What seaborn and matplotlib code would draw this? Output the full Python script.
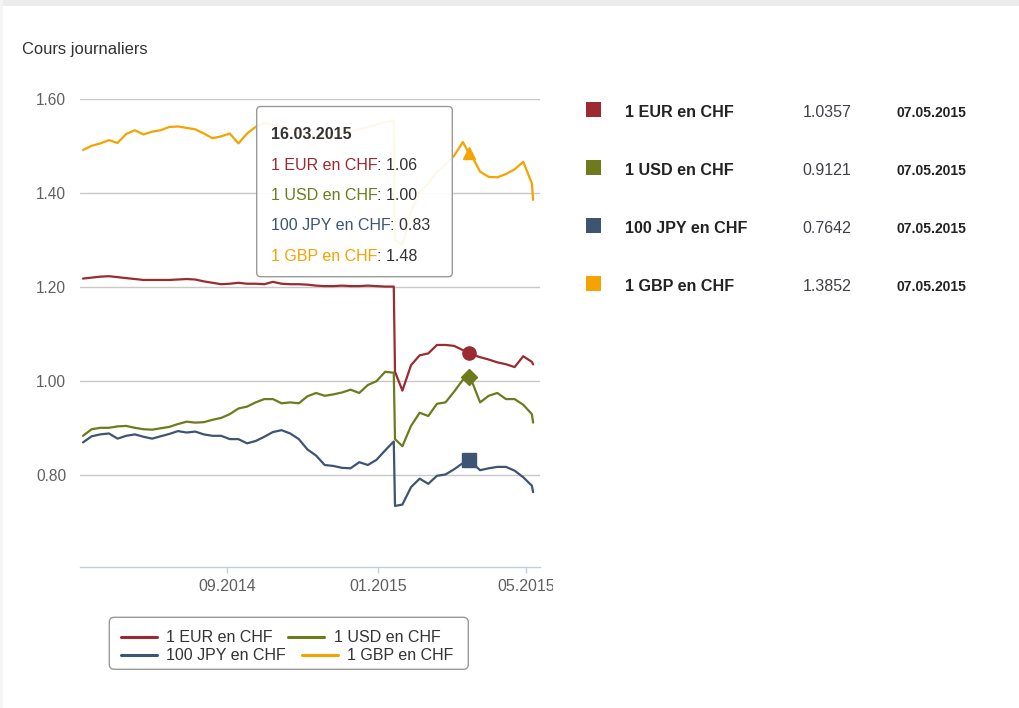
import numpy as np
import pandas as pd
import matplotlib
matplotlib.use("Agg")
import matplotlib.pyplot as plt
import seaborn as sns
from matplotlib.patches import FancyBboxPatch, Rectangle
from matplotlib.lines import Line2D
from matplotlib.transforms import IdentityTransform, Bbox

# ---------------- data ----------------
weekly_dates = pd.date_range("2014-05-07", "2015-05-06", freq="7D")
extra_dates = pd.to_datetime(["2015-01-15", "2015-03-16", "2015-05-07"])
dates = weekly_dates.union(extra_dates)

series_names = ["1 EUR en CHF", "1 USD en CHF", "100 JPY en CHF", "1 GBP en CHF"]
series_colors = ["#9b2a31", "#6e7b1d", "#3d5473", "#f5a300"]

eur = [1.218, 1.220, 1.222, 1.223, 1.221, 1.219, 1.217, 1.215, 1.215, 1.215,
       1.215, 1.216, 1.217, 1.216, 1.212, 1.209, 1.206, 1.207, 1.209, 1.207,
       1.207, 1.206, 1.211, 1.207, 1.206, 1.206, 1.205, 1.203, 1.202, 1.202,
       1.203, 1.202, 1.202, 1.203, 1.202, 1.201, 1.201,
       1.020,
       0.980, 1.034, 1.055, 1.059, 1.077, 1.077, 1.075, 1.066,
       1.060,
       1.057, 1.051, 1.046, 1.040, 1.036, 1.030, 1.053, 1.041,
       1.0357]

usd = [0.884, 0.898, 0.901, 0.901, 0.904, 0.905, 0.901, 0.898, 0.897, 0.900,
       0.903, 0.909, 0.914, 0.912, 0.913, 0.918, 0.922, 0.930, 0.942, 0.946,
       0.955, 0.962, 0.962, 0.953, 0.955, 0.953, 0.968, 0.975, 0.969, 0.972,
       0.976, 0.982, 0.975, 0.992, 1.000, 1.020, 1.018,
       0.877,
       0.862, 0.905, 0.933, 0.926, 0.952, 0.955, 0.978, 1.003,
       1.008,
       1.002, 0.955, 0.969, 0.975, 0.962, 0.962, 0.950, 0.930,
       0.9121]

jpy = [0.870, 0.883, 0.887, 0.889, 0.878, 0.884, 0.887, 0.882, 0.878, 0.883,
       0.888, 0.894, 0.891, 0.893, 0.887, 0.884, 0.884, 0.877, 0.877, 0.868,
       0.873, 0.882, 0.892, 0.896, 0.889, 0.877, 0.855, 0.842, 0.822, 0.820,
       0.816, 0.815, 0.828, 0.822, 0.833, 0.853, 0.872,
       0.735,
       0.738, 0.775, 0.793, 0.782, 0.799, 0.802, 0.813, 0.826,
       0.833,
       0.828, 0.811, 0.815, 0.818, 0.818, 0.810, 0.796, 0.778,
       0.7642]

gbp = [1.491, 1.500, 1.505, 1.512, 1.506, 1.525, 1.533, 1.524, 1.530, 1.533,
       1.540, 1.541, 1.538, 1.535, 1.526, 1.516, 1.520, 1.526, 1.505, 1.526,
       1.540, 1.548, 1.545, 1.540, 1.535, 1.530, 1.525, 1.520, 1.515, 1.518,
       1.525, 1.530, 1.535, 1.540, 1.545, 1.550, 1.553,
       1.300,
       1.290, 1.360, 1.400, 1.420, 1.445, 1.460, 1.479, 1.508,
       1.484,
       1.480, 1.445, 1.434, 1.433, 1.440, 1.450, 1.466, 1.420,
       1.3852]

series_values = [eur, usd, jpy, gbp]
last_values = ["1.0357", "0.9121", "0.7642", "1.3852"]
last_date = "07.05.2015"
tooltip_date = "16.03.2015"
tooltip_values = ["1.06", "1.00", "0.83", "1.48"]
marker_shapes = ["o", "D", "s", "^"]

y_ticks = [0.80, 1.00, 1.20, 1.40, 1.60]
x_ticks = pd.to_datetime(["2014-09-01", "2015-01-01", "2015-05-01"])
x_tick_labels = ["09.2014", "01.2015", "05.2015"]

# ---------------- figure ----------------
W, H = 1019, 708
sns.set_theme(style="white")
plt.rcParams["font.family"] = ["Liberation Sans", "DejaVu Sans"]

fig = plt.figure(figsize=(W / 100, H / 100), dpi=100)
fig.patch.set_facecolor("white")
ident = IdentityTransform()

# page frame (light grey band on top / left)
fig.add_artist(Rectangle((0, H - 6), W, 6, transform=ident, color="#ececec", lw=0, zorder=0))
fig.add_artist(Rectangle((0, 0), 3, H, transform=ident, color="#f4f4f4", lw=0, zorder=0))

fig.text(21.5, H - 54, "Cours journaliers", transform=ident, fontsize=11.9,
         color="#333333", va="baseline", ha="left")

ax_left, ax_right, ax_top, ax_bottom = 80, 540, 98.7, 566.7
ax = fig.add_axes([ax_left / W, 1 - ax_bottom / H, (ax_right - ax_left) / W, (ax_bottom - ax_top) / H])

df = pd.concat([pd.DataFrame({"date": dates, "value": v, "series": n})
                for n, v in zip(series_names, series_values)], ignore_index=True)

sns.lineplot(data=df, x="date", y="value", hue="series", hue_order=series_names,
             palette=series_colors, linewidth=1.6, estimator=None, legend=False,
             ax=ax, zorder=3)

# markers at the hovered date
hover = pd.Timestamp("2015-03-16")
hi = dates.get_loc(hover)
for vals, col, mk in zip(series_values, series_colors, marker_shapes):
    ms = {"o": 9.5, "D": 8.0, "s": 9.5, "^": 8.5}[mk]
    ax.plot([hover], [vals[hi]], marker=mk, color=col, markersize=ms, linestyle="none", zorder=5)

# axes styling
day0 = pd.Timestamp("2014-09-01") - pd.Timedelta(days=(227.3 - ax_left) / 1.2331)
day1 = day0 + pd.Timedelta(days=(ax_right - ax_left) / 1.2331)
ax.set_xlim(day0, day1)
ax.set_ylim(0.606, 1.60)
ax.set_yticks(y_ticks)
ax.set_yticklabels([f"{t:.2f}" for t in y_ticks])
ax.set_xticks(x_ticks)
ax.set_xticklabels(x_tick_labels)
ax.set_xlabel("")
ax.set_ylabel("")
for s in ["top", "right", "left"]:
    ax.spines[s].set_visible(False)
ax.spines["bottom"].set_color("#c0d0e0")
ax.spines["bottom"].set_linewidth(1.0)
ax.yaxis.grid(True, color="#c8c8c8", linewidth=1.0)
ax.xaxis.grid(False)
ax.set_axisbelow(True)
ax.tick_params(axis="y", length=0, pad=10, labelsize=11.2, labelcolor="#606060")
ax.tick_params(axis="x", length=4.5, width=1, color="#c0d0e0", pad=4,
               labelsize=11.5, labelcolor="#606060", bottom=True)
ax.set_facecolor("white")
for lab in ax.get_xticklabels():
    lab.set_clip_box(Bbox.from_extents(0, 0, 553, H))
    lab.set_clip_on(True)

renderer = fig.canvas.get_renderer()

# ---------------- tooltip ----------------
tx0, ty0, tx1, ty1 = 256.7, 106.5, 452.3, 276.7
fig.add_artist(FancyBboxPatch((tx0, H - ty1), tx1 - tx0, ty1 - ty0,
                              boxstyle="round,pad=0,rounding_size=4",
                              transform=ident, facecolor=(1, 1, 1, 0.93),
                              edgecolor="#9a9a9a", linewidth=1.0, zorder=10))
fig.text(270.7, H - 139, tooltip_date, transform=ident, fontsize=11.5,
         fontweight="bold", color="#333333", va="baseline", zorder=11)
for i, (n, c, v) in enumerate(zip(series_names, series_colors, tooltip_values)):
    yb = H - (169.5 + i * 30.5)
    t = fig.text(270.7, yb, n, transform=ident, fontsize=11.5, color=c,
                 va="baseline", zorder=11)
    bb = t.get_window_extent(renderer=renderer)
    fig.text(bb.x1, yb, ": " + v, transform=ident, fontsize=11.5, color="#333333",
             va="baseline", zorder=11)

# ---------------- right-hand table ----------------
for i, (n, c, lv) in enumerate(zip(series_names, series_colors, last_values)):
    yb = 116.7 + i * 58
    fig.add_artist(Rectangle((586, H - yb), 15, 15, transform=ident,
                             facecolor=c, edgecolor="none"))
    fig.text(625, H - yb, n, transform=ident, fontsize=11.6, fontweight="bold",
             color="#222222", va="baseline")
    fig.text(802.5, H - yb, lv, transform=ident, fontsize=11.5, color="#404048",
             va="baseline")
    fig.text(896.7, H - yb, last_date, transform=ident, fontsize=10,
             fontweight="bold", color="#222222", va="baseline")

# ---------------- bottom legend ----------------
lx0, ly0, lx1, ly1 = 109.3, 617.3, 468.3, 669.3
fig.add_artist(FancyBboxPatch((lx0, H - ly1), lx1 - lx0, ly1 - ly0,
                              boxstyle="round,pad=0,rounding_size=5",
                              transform=ident, facecolor="white",
                              edgecolor="#9a9a9a", linewidth=1.0))
leg_pos = [(120.7, 636.7), (288.3, 636.7), (120.7, 655.2), (301.7, 655.2)]
for (x, y), n, c in zip(leg_pos, series_names, series_colors):
    fig.add_artist(Line2D([x, x + 36], [H - y, H - y], transform=ident, color=c, linewidth=2.2))
    fig.text(x + 45.5, H - (y + 5), n, transform=ident, fontsize=11.5,
             color="#333333", va="baseline")

fig.savefig("out.png", dpi=100)
